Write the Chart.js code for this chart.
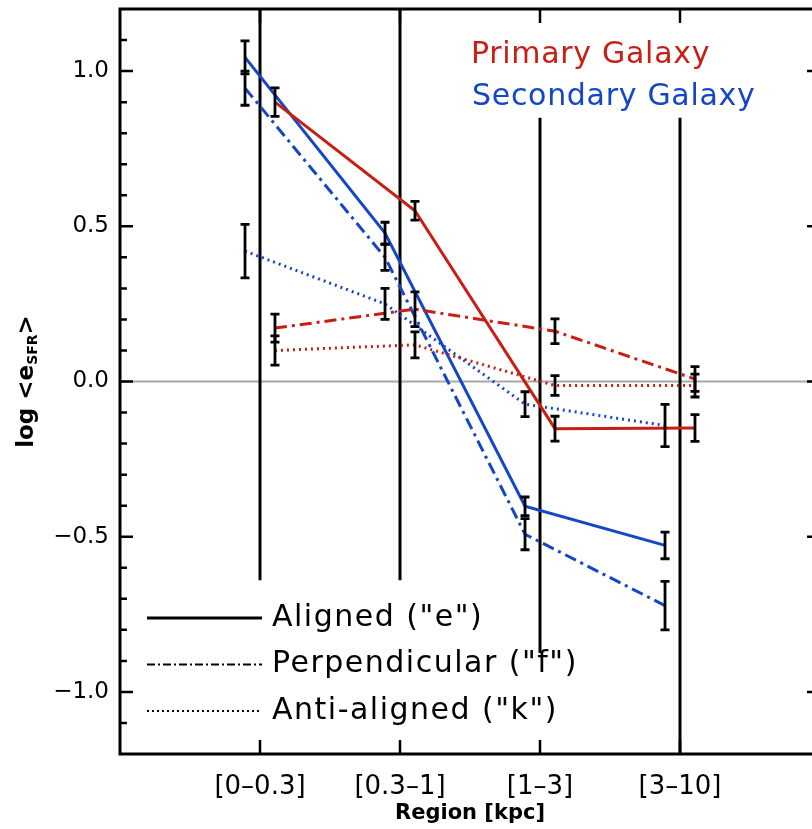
<!DOCTYPE html>
<html>
<head>
<meta charset="utf-8">
<script src="https://cdn.jsdelivr.net/npm/chart.js@4"></script>
<style>
  html, body { margin: 0; padding: 0; background: #fff; overflow: hidden; }
  canvas { display: block; }
</style>
</head>
<body>
<canvas id="sfrChart" width="830" height="829"></canvas>
<script>
// regions along the x axis
var categories = ['[0–0.3]', '[0.3–1]', '[1–3]', '[3–10]'];
var yTicks = [-1.0, -0.5, 0.0, 0.5, 1.0];

// primary galaxy: log <e_SFR> and errors per region
var alignedP = [0.90, 0.55, -0.152, -0.150];
var alignedPErr = [0.046, 0.030, 0.040, 0.043];
var perpP = [0.172, 0.233, 0.162, 0.008];
var perpPErr = [0.045, 0.056, 0.040, 0.040];
var antiP = [0.100, 0.118, -0.013, -0.013];
var antiPErr = [0.047, 0.042, 0.032, 0.037];

// secondary galaxy
var alignedS = [1.044, 0.478, -0.402, -0.528];
var alignedSErr = [0.053, 0.035, 0.030, 0.043];
var perpS = [0.945, 0.400, -0.492, -0.722];
var perpSErr = [0.055, 0.042, 0.050, 0.078];
var antiS = [0.420, 0.250, -0.073, -0.142];
var antiSErr = [0.086, 0.050, 0.040, 0.068];

var legendLabels = ['Aligned ("e")', 'Perpendicular ("f")', 'Anti-aligned ("k")'];
var galaxyLabels = ['Primary Galaxy', 'Secondary Galaxy'];

var RED = '#c81e14';
var BLUE = '#1446c8';
var DASHDOT = [12, 5, 3, 5];
var DOTTED = [2, 4];
var SHIFT = 0.107; // horizontal offset of each galaxy from the region centre
var FONT = '"DejaVu Sans", sans-serif';

function pts(vals, shift) {
    return vals.map(function (v, i) { return { x: i + 1 + shift, y: v }; });
}

function series(vals, errs, shift, color, dash) {
    return {
        data: pts(vals, shift),
        errors: errs,
        borderColor: color,
        borderWidth: 3,
        borderDash: dash,
        pointRadius: 0,
        tension: 0,
        fill: false
    };
}

var extras = {
    id: 'extras',
    beforeDatasetsDraw: function (chart) {
        var ctx = chart.ctx, a = chart.chartArea;
        var xs = chart.scales.x, ys = chart.scales.y;
        ctx.save();
        // zero reference line
        ctx.strokeStyle = '#a8a8a8';
        ctx.lineWidth = 2;
        ctx.beginPath();
        ctx.moveTo(a.left, ys.getPixelForValue(0));
        ctx.lineTo(a.right, ys.getPixelForValue(0));
        ctx.stroke();
        // region separators, kept clear of the legend texts
        var seps = [[1, 1.2, -0.64], [2, 1.2, -0.64], [3, 0.85, -0.875], [4, 0.85, -1.2]];
        ctx.strokeStyle = '#000';
        ctx.lineWidth = 3;
        seps.forEach(function (s) {
            var x = xs.getPixelForValue(s[0]);
            ctx.beginPath();
            ctx.moveTo(x, ys.getPixelForValue(s[1]));
            ctx.lineTo(x, ys.getPixelForValue(s[2]));
            ctx.stroke();
        });
        ctx.restore();
    },
    afterDatasetsDraw: function (chart) {
        var ctx = chart.ctx, a = chart.chartArea;
        var xs = chart.scales.x, ys = chart.scales.y;
        ctx.save();

        // error bars
        ctx.strokeStyle = '#000';
        ctx.lineWidth = 2.8;
        chart.data.datasets.forEach(function (ds) {
            ds.data.forEach(function (p, i) {
                var x = xs.getPixelForValue(p.x);
                var y1 = ys.getPixelForValue(p.y + ds.errors[i]);
                var y2 = ys.getPixelForValue(p.y - ds.errors[i]);
                ctx.beginPath();
                ctx.moveTo(x, y1); ctx.lineTo(x, y2);
                ctx.moveTo(x - 4.5, y1); ctx.lineTo(x + 4.5, y1);
                ctx.moveTo(x - 4.5, y2); ctx.lineTo(x + 4.5, y2);
                ctx.stroke();
            });
        });

        // frame
        ctx.lineWidth = 3;
        ctx.strokeRect(a.left, a.top, a.right - a.left, a.bottom - a.top);

        // inward tick marks
        ctx.lineWidth = 2.5;
        ctx.beginPath();
        for (var k = -11; k <= 11; k++) {
            var v = k / 10;
            var y = ys.getPixelForValue(v);
            var len = (k % 5 === 0) ? 13 : 7;
            ctx.moveTo(a.left, y); ctx.lineTo(a.left + len, y);
            ctx.moveTo(a.right, y); ctx.lineTo(a.right - len, y);
        }
        categories.forEach(function (c, i) {
            var x = xs.getPixelForValue(i + 1);
            ctx.moveTo(x, a.top); ctx.lineTo(x, a.top + 14);
            ctx.moveTo(x, a.bottom); ctx.lineTo(x, a.bottom - 14);
        });
        ctx.stroke();

        // line style legend
        var dashes = [[], [8, 3, 2, 3], [2, 3]];
        ctx.font = '30px ' + FONT;
        ctx.letterSpacing = '1.5px';
        ctx.textBaseline = 'middle';
        ctx.fillStyle = '#000';
        legendLabels.forEach(function (t, i) {
            var y = a.top + 609 + i * 46.5;
            ctx.setLineDash(dashes[i]);
            ctx.lineWidth = i === 0 ? 3 : 2;
            ctx.beginPath();
            ctx.moveTo(a.left + 27, y);
            ctx.lineTo(a.left + 142, y);
            ctx.stroke();
            ctx.fillText(t, a.left + 152, y);
        });
        ctx.setLineDash([]);

        // galaxy colour key
        ctx.letterSpacing = '0.7px';
        ctx.fillStyle = RED;
        ctx.fillText(galaxyLabels[0], a.left + 351, a.top + 46);
        ctx.fillStyle = BLUE;
        ctx.fillText(galaxyLabels[1], a.left + 352, a.top + 88);
        ctx.letterSpacing = '0px';

        // y axis title with subscript
        var big = 'bold 23px ' + FONT, small = 'bold 14px ' + FONT;
        var parts = [['log <e', big, 0], ['SFR', small, 6], ['>', big, 0]];
        var total = 0;
        parts.forEach(function (p) { ctx.font = p[1]; total += ctx.measureText(p[0]).width; });
        ctx.translate(27, (a.top + a.bottom) / 2);
        ctx.rotate(-Math.PI / 2);
        ctx.fillStyle = '#000';
        ctx.textAlign = 'left';
        var cx = -total / 2;
        parts.forEach(function (p) {
            ctx.font = p[1];
            ctx.fillText(p[0], cx, p[2]);
            cx += ctx.measureText(p[0]).width;
        });
        ctx.restore();
    }
};

var ctx = document.getElementById('sfrChart').getContext('2d');
var myChart = new Chart(ctx, {
    type: 'line',
    data: {
        datasets: [
            series(alignedP, alignedPErr, SHIFT, RED, []),
            series(perpP, perpPErr, SHIFT, RED, DASHDOT),
            series(antiP, antiPErr, SHIFT, RED, DOTTED),
            series(alignedS, alignedSErr, -SHIFT, BLUE, []),
            series(perpS, perpSErr, -SHIFT, BLUE, DASHDOT),
            series(antiS, antiSErr, -SHIFT, BLUE, DOTTED)
        ]
    },
    options: {
        responsive: false,
        animation: false,
        layout: { padding: { top: 9, right: 10, left: 0, bottom: 0 } },
        plugins: { legend: { display: false }, tooltip: { enabled: false } },
        scales: {
            x: {
                type: 'linear',
                min: 0,
                max: 5,
                grid: { display: false },
                border: { display: false },
                afterBuildTicks: function (s) {
                    s.ticks = categories.map(function (c, i) { return { value: i + 1 }; });
                },
                afterFit: function (s) {
                    s.height = 75;
                    s.paddingLeft = 0;
                    s.paddingRight = 0;
                },
                ticks: {
                    autoSkip: false,
                    maxRotation: 0,
                    padding: 10,
                    color: '#000',
                    font: { family: FONT, size: 26 },
                    callback: function (v) { return categories[v - 1]; }
                },
                title: {
                    display: true,
                    text: 'Region [kpc]',
                    color: '#000',
                    font: { family: FONT, size: 21, weight: 'bold' },
                    padding: { top: 0, bottom: 3 }
                }
            },
            y: {
                min: -1.2,
                max: 1.2,
                grid: { display: false },
                border: { display: false },
                afterBuildTicks: function (s) {
                    s.ticks = yTicks.map(function (v) { return { value: v }; });
                },
                afterFit: function (s) {
                    s.width = 120;
                    s.paddingTop = 0;
                    s.paddingBottom = 0;
                },
                ticks: {
                    padding: 3,
                    color: '#000',
                    font: { family: FONT, size: 23 },
                    callback: function (v) { return v.toFixed(1).replace('-', '−'); }
                }
            }
        }
    },
    plugins: [extras]
});
</script>
</body>
</html>
